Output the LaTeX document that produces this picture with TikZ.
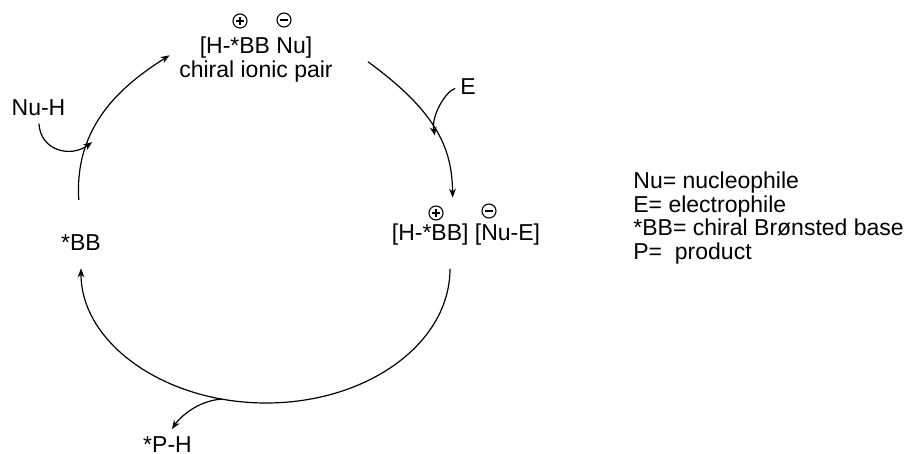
\documentclass[tikz,border=0pt]{standalone}
\usepackage{fontspec}
\setmainfont{Liberation Sans}
\usepackage{tikz}
\usetikzlibrary{arrows.meta}

\begin{document}
\begin{tikzpicture}[
  x=0.5pt, y=-0.5pt,
  txt/.style={inner sep=0pt, font=\fontsize{11.5}{11.8}\selectfont},
  chg/.style={circle, draw, line width=0.55pt, minimum size=7pt, inner sep=0pt},
  cplus/.style={chg, path picture={\draw[line width=0.9pt] ([xshift=-2pt]path picture bounding box.center) -- ([xshift=2pt]path picture bounding box.center) ([yshift=-2pt]path picture bounding box.center) -- ([yshift=2pt]path picture bounding box.center);}},
  cminus/.style={chg, path picture={\draw[line width=0.9pt] ([xshift=-2pt]path picture bounding box.center) -- ([xshift=2pt]path picture bounding box.center);}},
  arr/.style={-{Stealth[length=4.5pt, width=3.4pt]}, line width=0.6pt},
]
\path[use as bounding box] (0,0) rectangle (911,454);

% Catalytic species
\node[txt, anchor=base] (bb) at (81,251) {*BB};
\node[txt, align=center, anchor=north] (ion) at (256,36.5) {[H-*BB Nu]\\chiral ionic pair};
\node[txt, anchor=north] (pair) at (466,223) {[H-*BB] [Nu-E]};

% Charges
\node[cplus] (ionp) at (240,21) {};
\node[cminus] (ionm) at (284,20) {};
\node[cplus] (pairp) at (436,213) {};
\node[cminus] (pairm) at (489,211) {};

% Reagents and product
\node[txt, anchor=base] (nuh) at (38.5,116) {Nu-H};
\node[txt, anchor=base] (e) at (468,95) {E};
\node[txt, anchor=base] (ph) at (167.5,452) {*P-H};

% Legend
\node[txt, align=left, anchor=north west] (legend) at (633,171.5) {Nu= nucleophile\\E= electrophile\\*BB= chiral Brønsted base\\P=\ \ product};

% Cycle
\coordinate (low) at (266,403);
\draw[arr, shorten <=17.5pt, shorten >=5.5pt] (bb.north) .. controls +(-7,-110) and +(-55.5,35) .. ([yshift=5pt]ion.west) coordinate[pos=0.35] (nuin);
\draw[arr, shorten <=21.5pt, shorten >=12.7pt] (ion.north east) .. controls +(107.5,78) and +(-1,-71) .. ([xshift=-6.5pt]pair.north) coordinate[pos=0.52] (ein);
\draw[arr, shorten <=11.8pt, shorten >=8.5pt] ([xshift=-8pt]pair.south) .. controls +(0,98) and +(101.6,0) .. (low) .. controls +(-101.6,0) and +(0,91.5) .. (bb.south) coordinate[pos=0.15] (pout);

% Side arrows
\draw[arr, shorten <=3.5pt] (nuh.south) .. controls +(2,34) and +(-22,16) .. (nuin);
\draw[arr, shorten <=2.5pt] (e.west) .. controls +(-14,4) and +(-4,-20) .. (ein);
\draw[arr, shorten >=4pt] (pout) .. controls +(-25,2) and +(12,-18) .. (ph.north);

\end{tikzpicture}
\end{document}
